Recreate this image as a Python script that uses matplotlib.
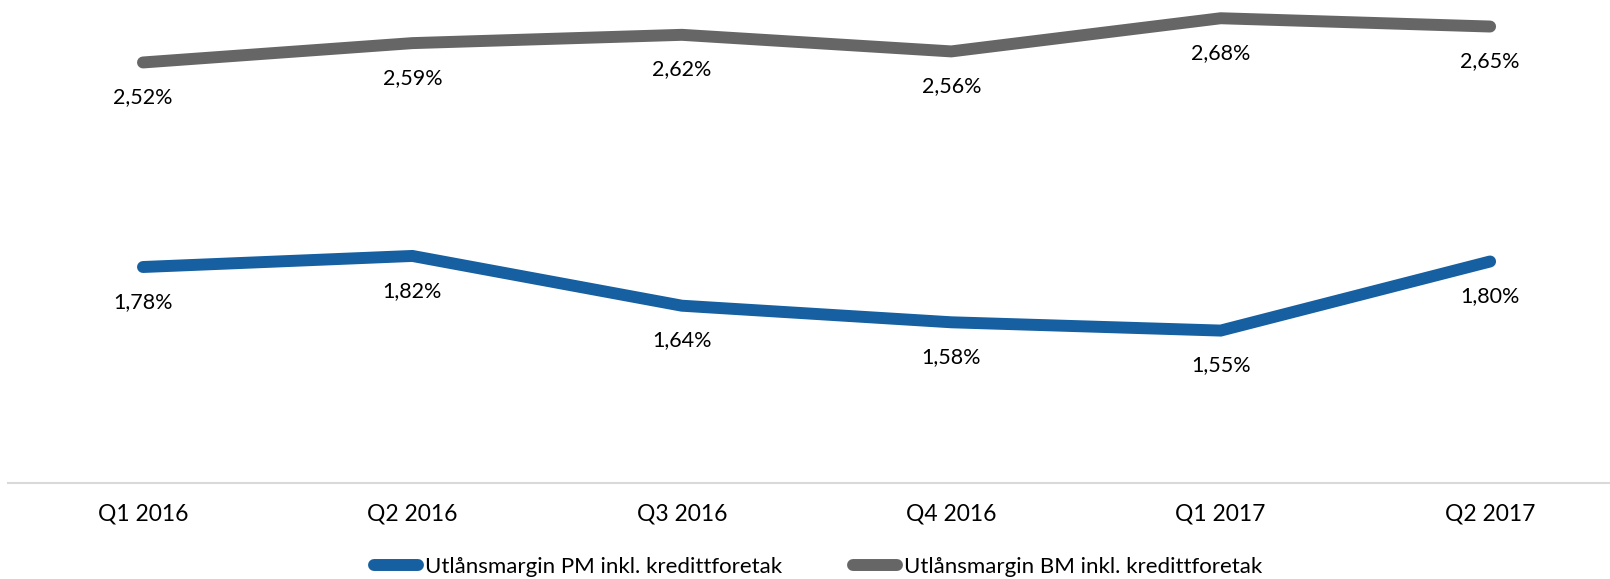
import matplotlib
matplotlib.use("Agg")
import matplotlib.pyplot as plt

plt.rcParams["font.family"] = ["Lato", "DejaVu Sans"]

QUARTERS = ["Q1 2016", "Q2 2016", "Q3 2016", "Q4 2016", "Q1 2017", "Q2 2017"]
PM_MARGIN = [1.78, 1.82, 1.64, 1.58, 1.55, 1.80]
BM_MARGIN = [2.52, 2.59, 2.62, 2.56, 2.68, 2.65]
SERIES_NAMES = ["Utlånsmargin PM inkl. kredittforetak",
                "Utlånsmargin BM inkl. kredittforetak"]

BLUE = "#165fa0"
GRAY = "#666666"

fig = plt.figure(figsize=(16.1, 5.79), dpi=100)
ax = fig.add_axes([8 / 1610, 96.4 / 579, 1 - 8 / 1610, 1 - 96.4 / 579])

x = list(range(len(QUARTERS)))
for vals, color, name in [(PM_MARGIN, BLUE, SERIES_NAMES[0]),
                          (BM_MARGIN, GRAY, SERIES_NAMES[1])]:
    ax.plot(x, vals, color=color, lw=8.6, solid_capstyle="round",
            solid_joinstyle="miter", label=name)
    for xi, v in zip(x, vals):
        ax.annotate(f"{v:.2f}%".replace(".", ","), (xi, v),
                    xytext=(0, -25), textcoords="offset points",
                    ha="center", va="center", fontsize=15.5, color="black")

ax.set_xlim(-0.501, 5.445)
ax.set_ylim(1.0, 2.746)
ax.set_xticks(x)
ax.set_xticklabels(QUARTERS, fontsize=16.5)
ax.tick_params(axis="x", length=0, pad=15)
ax.set_yticks([])
for side in ["top", "left", "right"]:
    ax.spines[side].set_visible(False)
ax.spines["bottom"].set_color("#d9d9d9")
ax.spines["bottom"].set_linewidth(1.5)

fig.legend(loc="center", bbox_to_anchor=(0.508, 12 / 579), ncol=2,
           frameon=False, fontsize=16, handlelength=2.0, handletextpad=0.3,
           columnspacing=3.2)

fig.savefig("out.png", dpi=100)
